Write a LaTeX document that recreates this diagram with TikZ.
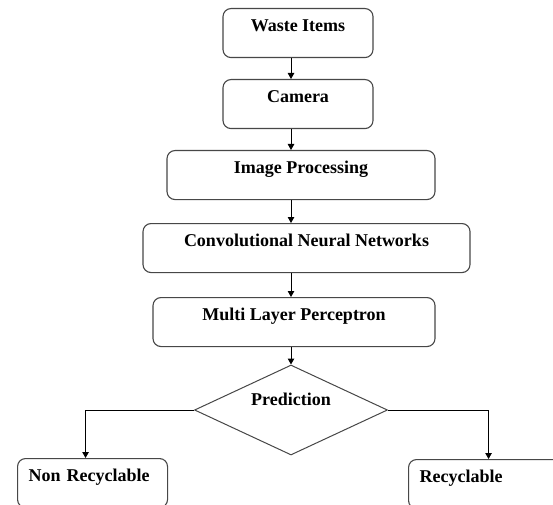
\documentclass[tikz,border=0pt]{standalone}
\usepackage{fontspec}
\setmainfont{Liberation Serif}
\usetikzlibrary{shapes.geometric,arrows.meta}
\begin{document}
\begin{tikzpicture}[x=1pt,y=1pt,
  label font/.style={font=\fontsize{18}{21}\selectfont\bfseries},
  stage/.style={draw=black!72, line width=1.1pt, rounded corners=8pt, fill=white,
    inner xsep=0pt, inner ysep=0pt, text height=23pt, text depth=26pt,
    label font, anchor=north},
  outcome/.style={stage, anchor=north west, align=left, text width=128pt, inner xsep=11pt},
  decision/.style={draw=black!72, line width=1pt, diamond, aspect=2.14, fill=white,
    inner sep=0pt, minimum width=193pt, minimum height=90pt,
    text height=10pt, text depth=20pt, label font},
  arr/.style={draw=black, line width=1pt, -{Triangle[length=6pt,width=6.5pt]}}
]
\path[use as bounding box, clip] (0,0) rectangle (553,504);

% processing chain
\node[stage, minimum width=150pt] (waste)   at (298,496) {Waste Items};
\node[stage, minimum width=150pt] (camera)  at (298,425) {Camera};
\node[stage, minimum width=268pt] (imgproc) at (301,354) {Image Processing};
\node[stage, minimum width=327pt] (cnn)     at (306.5,281) {Convolutional Neural Networks};
\node[stage, minimum width=282pt] (mlp)     at (294,207) {Multi Layer Perceptron};

% decision and its two outcomes
\node[decision] (pred) at (291,94) {Prediction};
\node[outcome] (nonrec) at (17,46) {Non Recyclable};
\node[outcome, text width=150pt] (rec) at (408,45) {Recyclable};

% connectors
\draw[arr] (waste.south -| pred)   -- (camera.north -| pred);
\draw[arr] (camera.south -| pred)  -- (imgproc.north -| pred);
\draw[arr] (imgproc.south -| pred) -- (cnn.north -| pred);
\draw[arr] (cnn.south -| pred)     -- (mlp.north -| pred);
\draw[arr] (mlp.south -| pred)     -- (pred.north);
\draw[arr] (pred.west) -| ([xshift=-7pt]nonrec.north);
\draw[arr] (pred.east) -| ([xshift=-6pt]rec.north);
\end{tikzpicture}
\end{document}
